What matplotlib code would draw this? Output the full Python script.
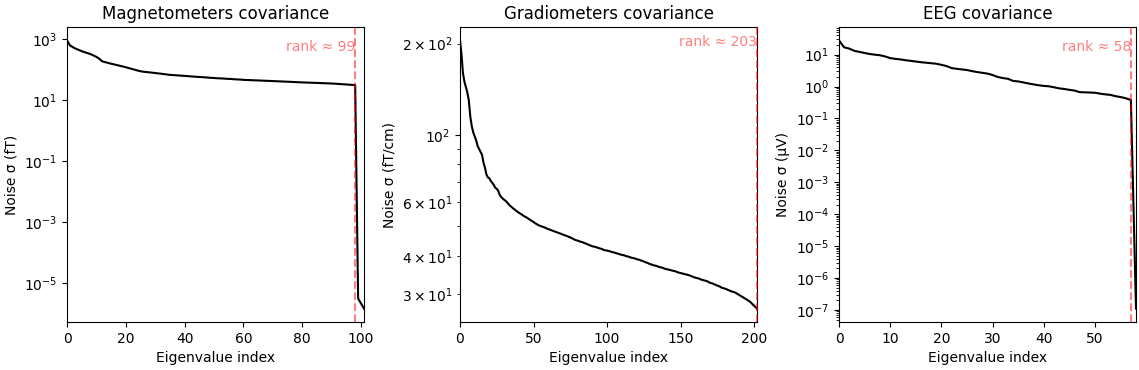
import matplotlib
matplotlib.use("Agg")
import matplotlib.pyplot as plt
import numpy as np

# eigenvalue spectra (noise sigma per eigenvalue index)
mag_sigma = [
    900, 620, 540, 480, 440, 400, 370, 345, 320, 290,
    260, 225, 185, 175, 165, 155, 148, 140, 133, 126,
    119, 112, 105, 99, 93, 88, 85, 83, 81, 79,
    77, 75, 73, 71, 69, 67, 66, 65, 64, 63,
    62, 61, 60, 59, 58, 57, 56.5, 55.5, 54.5, 53.5,
    53, 52, 51.5, 51, 50, 49.5, 49, 48, 47.5, 47,
    46, 45.6, 45.2, 44.8, 44.4, 44, 43.6, 43.2, 42.8, 42.4,
    42, 41.6, 41.2, 40.8, 40.4, 40, 39.6, 39.2, 38.8, 38.4,
    38, 37.7, 37.4, 37.1, 36.8, 36.5, 36.2, 35.9, 35.6, 35.3,
    35, 34.5, 34, 33.5, 33, 32.5, 32, 31.5, 31,
    3.2e-6, 2.2e-6, 1.5e-6,
]
grad_sigma = [
    205, 185, 160, 150, 144, 138, 130, 115, 107, 102,
    99, 96, 92, 90, 88, 86, 81, 78, 74, 72.5,
    72, 70.5, 69.5, 68.5, 67, 66.5, 65.5, 63.5, 62.5, 61.8,
    61.2, 60.7, 60, 59.2, 58.5, 58, 57.4, 56.9, 56.4, 55.9,
    55.5, 55.1, 54.7, 54.3, 53.9, 53.6, 53.2, 52.8, 52.4, 52,
    51.6, 51.2, 50.9, 50.6, 50.3, 50.1, 49.9, 49.7, 49.5, 49.2,
    49, 48.8, 48.6, 48.4, 48.2, 48, 47.8, 47.6, 47.4, 47.2,
    47, 46.8, 46.6, 46.4, 46.2, 46, 45.7, 45.5, 45.2, 45,
    44.9, 44.7, 44.5, 44.4, 44.2, 44, 43.8, 43.6, 43.4, 43.2,
    43, 42.9, 42.8, 42.6, 42.5, 42.3, 42.2, 42, 41.8, 41.7,
    41.6, 41.5, 41.4, 41.2, 41.1, 41, 40.8, 40.7, 40.6, 40.4,
    40.3, 40.2, 40.1, 39.9, 39.8, 39.7, 39.5, 39.4, 39.3, 39.2,
    39, 38.9, 38.8, 38.6, 38.5, 38.3, 38.1, 38, 37.8, 37.6,
    37.5, 37.3, 37.2, 37.1, 37, 36.8, 36.7, 36.6, 36.5, 36.3,
    36.2, 36.1, 36, 35.9, 35.8, 35.7, 35.6, 35.5, 35.3, 35.2,
    35.1, 35, 34.9, 34.8, 34.7, 34.6, 34.5, 34.3, 34.2, 34,
    33.9, 33.8, 33.7, 33.6, 33.4, 33.3, 33.2, 33.1, 33, 32.8,
    32.6, 32.5, 32.4, 32.2, 32.1, 31.9, 31.8, 31.6, 31.4, 31.3,
    31.2, 31.1, 30.9, 30.8, 30.6, 30.5, 30.4, 30.3, 30.1, 29.9,
    29.7, 29.5, 29.3, 29.1, 28.9, 28.7, 28.5, 28.3, 28, 27.7,
    27.4, 27.1, 26.8,
]
eeg_sigma = [
    28, 17, 15.5, 13.2, 12.2, 11.3, 10.5, 10, 9.6, 8.8,
    7.8, 7.4, 7.1, 6.7, 6.4, 6.1, 5.8, 5.6, 5.4, 5.2,
    4.8, 4.4, 3.8, 3.6, 3.45, 3.3, 3.05, 2.85, 2.7, 2.55,
    2.3, 2.0, 1.85, 1.75, 1.5, 1.45, 1.35, 1.25, 1.17, 1.1,
    1.05, 1.02, 0.95, 0.88, 0.84, 0.79, 0.75, 0.67, 0.66, 0.65,
    0.64, 0.6, 0.57, 0.55, 0.5, 0.47, 0.43, 0.38, 1.1e-7,
]

titles = ["Magnetometers covariance", "Gradiometers covariance", "EEG covariance"]
units = ["fT", "fT/cm", "µV"]
ranks = [99, 203, 58]
spectra = [mag_sigma, grad_sigma, eeg_sigma]

fig = plt.figure(figsize=(11.39, 3.70), dpi=100)
lefts = [67, 460, 839]
for left, s, title, unit, rank in zip(lefts, spectra, titles, units, ranks):
    ax = fig.add_axes([left / 1139, 48 / 370, 297 / 1139, 295 / 370])
    ax.plot(s, color="k", zorder=3)
    ax.axvline(rank - 1, ls="--", color="r", alpha=0.5, zorder=4, clip_on=False)
    ax.text(rank - 1, ax.get_ylim()[1], "rank ≈ %d" % rank, ha="right", va="top",
            color="r", alpha=0.5, zorder=4)
    ax.set(ylabel="Noise σ (%s)" % unit, yscale="log", xlabel="Eigenvalue index",
           title=title, xlim=[0, len(s) - 1])

plt.savefig("out.png", dpi=100)
